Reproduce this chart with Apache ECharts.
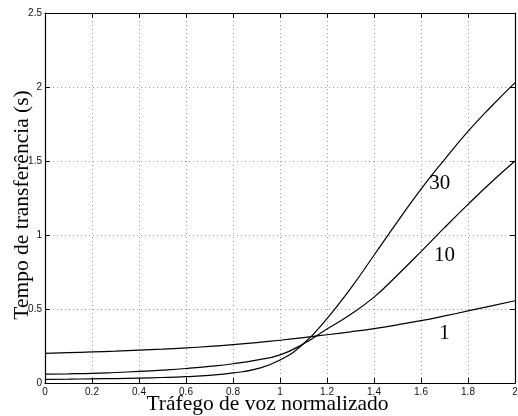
<!DOCTYPE html>
<html>
<head>
<meta charset="utf-8">
<script src="https://cdn.jsdelivr.net/npm/echarts@6/dist/echarts.min.js"></script>
<style>
  html, body { margin: 0; padding: 0; background: #fff; }
  #chart { width: 518px; height: 416px; }
</style>
</head>
<body>
<div id="chart"></div>
<script>
// tempo de transferência x tráfego de voz normalizado
const xValues = [0, 0.1, 0.2, 0.3, 0.4, 0.5, 0.6, 0.7, 0.8, 0.9, 1.0,
  1.1, 1.2, 1.3, 1.4, 1.5, 1.6, 1.7, 1.8, 1.9, 2.0]
const curve1 = [0.200, 0.205, 0.210, 0.215, 0.222, 0.229, 0.237, 0.247, 0.259, 0.273, 0.289,
  0.307, 0.326, 0.346, 0.368, 0.393, 0.421, 0.453, 0.487, 0.521, 0.556]
const curve10 = [0.060, 0.062, 0.065, 0.071, 0.078, 0.087, 0.098, 0.112, 0.130, 0.155, 0.190,
  0.265, 0.365, 0.463, 0.580, 0.730, 0.888, 1.050, 1.207, 1.358, 1.500]
const curve30 = [0.025, 0.026, 0.028, 0.030, 0.033, 0.037, 0.043, 0.052, 0.068, 0.095, 0.155,
  0.265, 0.435, 0.638, 0.863, 1.090, 1.310, 1.510, 1.700, 1.870, 2.030]
const curveNames = ['1', '10', '30']
const xTicks = [0, 0.2, 0.4, 0.6, 0.8, 1, 1.2, 1.4, 1.6, 1.8, 2]
const yTicks = [0, 0.5, 1, 1.5, 2, 2.5]

const serif = '"Liberation Serif", "DejaVu Serif", serif'
const sans = '"Liberation Sans", Arial, sans-serif'

const chart = echarts.init(document.getElementById('chart'))

function pairs(ys) {
  return xValues.map((x, i) => [x, ys[i]])
}

// rótulo da curva (número de usuários)
function curveLabel(name, coord) {
  return {
    symbol: 'circle',
    symbolSize: 0,
    itemStyle: { color: 'transparent' },
    label: {
      show: true,
      position: 'inside',
      formatter: name,
      color: '#000',
      fontFamily: serif,
      fontSize: 21,
    },
    data: [{ coord: coord }],
  }
}

const baseAxis = {
  type: 'value',
  axisLine: { show: true, onZero: false, lineStyle: { color: '#000', width: 1.2 } },
  axisTick: { show: true, inside: true, length: 5, lineStyle: { color: '#000' } },
}

const option = {
  animation: false,
  backgroundColor: '#fff',
  grid: { left: 45, right: 3, top: 13, bottom: 33, containLabel: false, outerBoundsMode: 'none' },
  xAxis: [
    Object.assign({}, baseAxis, {
      min: xTicks[0],
      max: xTicks[xTicks.length - 1],
      interval: 0.2,
      position: 'bottom',
      name: 'Tráfego de voz normalizado',
      nameLocation: 'middle',
      nameGap: 10,
      nameMoveOverlap: false,
      nameTextStyle: {
        fontFamily: serif, fontSize: 21.5, color: '#000',
        padding: [0, 25, 0, 0],
      },
      axisLabel: {
        margin: 4, fontFamily: sans, fontSize: 10, color: '#111',
        formatter: v => String(+v.toFixed(1)),
      },
      splitLine: { show: true, lineStyle: { color: '#999', type: [1, 3], width: 1 } },
    }),
    Object.assign({}, baseAxis, {
      min: xTicks[0],
      max: xTicks[xTicks.length - 1],
      interval: 0.2,
      position: 'top',
      axisLabel: { show: false },
      splitLine: { show: false },
    }),
  ],
  yAxis: [
    Object.assign({}, baseAxis, {
      min: yTicks[0],
      max: yTicks[yTicks.length - 1],
      interval: 0.5,
      position: 'left',
      name: 'Tempo de transferência (s)',
      nameLocation: 'middle',
      nameGap: 12,
      nameMoveOverlap: false,
      nameTextStyle: {
        fontFamily: serif, fontSize: 21.5, color: '#000',
        padding: [0, 14, 0, 0],
      },
      axisLabel: {
        margin: 3, fontFamily: sans, fontSize: 10, color: '#111',
        formatter: v => String(+v.toFixed(1)),
      },
      splitLine: { show: true, lineStyle: { color: '#999', type: [1, 3], width: 1 } },
    }),
    Object.assign({}, baseAxis, {
      min: yTicks[0],
      max: yTicks[yTicks.length - 1],
      interval: 0.5,
      position: 'right',
      axisLabel: { show: false },
      splitLine: { show: false },
    }),
  ],
  series: [
    {
      name: curveNames[0], type: 'line', data: pairs(curve1), smooth: 0.5,
      showSymbol: false, lineStyle: { color: '#000', width: 1.2 },
      markPoint: curveLabel(curveNames[0], [1.70, 0.334]),
    },
    {
      name: curveNames[1], type: 'line', data: pairs(curve10), smooth: 0.5,
      showSymbol: false, lineStyle: { color: '#000', width: 1.2 },
      markPoint: curveLabel(curveNames[1], [1.70, 0.863]),
    },
    {
      name: curveNames[2], type: 'line', data: pairs(curve30), smooth: 0.5,
      showSymbol: false, lineStyle: { color: '#000', width: 1.2 },
      markPoint: curveLabel(curveNames[2], [1.68, 1.35]),
    },
  ],
}
chart.setOption(option)

window.addEventListener('resize', function () {
  chart.resize()
})
</script>
</body>
</html>
